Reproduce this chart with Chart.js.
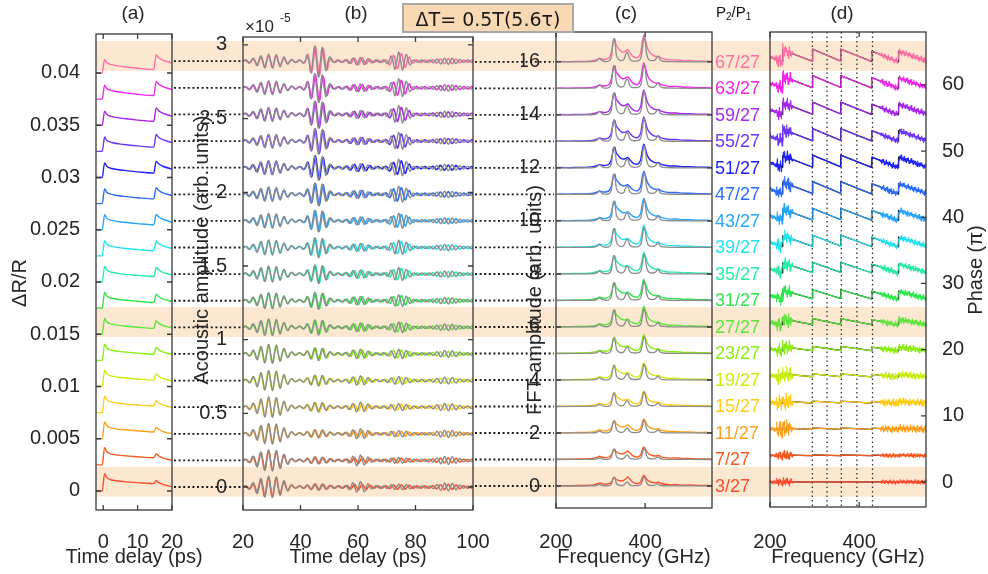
<!DOCTYPE html>
<html>
<head>
<meta charset="utf-8">
<script src="https://cdn.jsdelivr.net/npm/chart.js@4.4.1/dist/chart.umd.min.js"></script>
<style>
  html, body { margin: 0; background: #fff; }
  #fig { position: relative; width: 988px; height: 574px; }
  #fig canvas { position: absolute; left: 0; top: 0; }
</style>
</head>
<body>
<div id="fig">
  <!-- (b) sits at the bottom because it also paints the highlight bands -->
  <canvas id="panelB" width="988" height="574"></canvas>
  <canvas id="panelA" width="988" height="574"></canvas>
  <canvas id="panelC" width="988" height="574"></canvas>
  <canvas id="panelD" width="988" height="574"></canvas>
</div>
<script>
// ---------------- shared ----------------
const ratios = ['3/27', '7/27', '11/27', '15/27', '19/27', '23/27', '27/27', '31/27', '35/27',
                '39/27', '43/27', '47/27', '51/27', '55/27', '59/27', '63/27', '67/27'];
const traceColors = ['#ff4d2e', '#ff5a1c', '#ffa01e', '#ffcc18', '#c8ee10', '#8aee12', '#5ee63a',
                     '#2ee84c', '#26eea2', '#22e4ee', '#26a6ff', '#2a6cff', '#1f22ff', '#6a36ff',
                     '#a826f0', '#f426ee', '#ff6fa6'];
const highlighted = [0, 6, 16];

// ---------------- (a) reflectivity, values x1e-3 above each trace offset ----------------
const tA = [-2, -0.3, 0.4, 1, 2.5, 6, 10, 14.7, 15.4, 16, 17.5, 20];
const aRows = [
  [0, 0, 1.65, 1.30, 1.05, 0.90, 0.80, 0.70, 1.00, 0.85, 0.60, 0.40],
  [0, 0, 1.63, 1.28, 1.03, 0.88, 0.78, 0.68, 1.05, 0.89, 0.64, 0.43],
  [0, 0, 1.61, 1.26, 1.02, 0.86, 0.76, 0.65, 1.09, 0.93, 0.68, 0.47],
  [0, 0, 1.58, 1.24, 1.00, 0.84, 0.73, 0.63, 1.14, 0.97, 0.71, 0.50],
  [0, 0, 1.56, 1.23, 0.99, 0.83, 0.71, 0.61, 1.19, 1.01, 0.75, 0.54],
  [0, 0, 1.54, 1.21, 0.97, 0.81, 0.69, 0.58, 1.23, 1.05, 0.79, 0.57],
  [0, 0, 1.52, 1.19, 0.96, 0.79, 0.67, 0.56, 1.28, 1.09, 0.83, 0.61],
  [0, 0, 1.50, 1.17, 0.94, 0.77, 0.65, 0.54, 1.33, 1.13, 0.86, 0.64],
  [0, 0, 1.48, 1.15, 0.93, 0.75, 0.63, 0.52, 1.38, 1.18, 0.90, 0.68],
  [0, 0, 1.45, 1.13, 0.91, 0.73, 0.60, 0.49, 1.42, 1.22, 0.94, 0.71],
  [0, 0, 1.43, 1.11, 0.89, 0.71, 0.58, 0.47, 1.47, 1.26, 0.98, 0.74],
  [0, 0, 1.41, 1.09, 0.88, 0.69, 0.56, 0.45, 1.52, 1.30, 1.01, 0.78],
  [0, 0, 1.39, 1.08, 0.86, 0.68, 0.54, 0.42, 1.56, 1.34, 1.05, 0.81],
  [0, 0, 1.37, 1.06, 0.85, 0.66, 0.52, 0.40, 1.61, 1.38, 1.09, 0.85],
  [0, 0, 1.34, 1.04, 0.83, 0.64, 0.49, 0.38, 1.66, 1.42, 1.13, 0.88],
  [0, 0, 1.32, 1.02, 0.82, 0.62, 0.47, 0.35, 1.70, 1.46, 1.16, 0.92],
  [0, 0, 1.30, 1.00, 0.80, 0.60, 0.45, 0.33, 1.75, 1.50, 1.20, 0.95]
];
const aStep = 0.0025;
const aXTicks = [0, 10, 20];
const aYTicks = [0, 0.005, 0.01, 0.015, 0.02, 0.025, 0.03, 0.035, 0.04];

// ---------------- (b) acoustic echoes (x1e-5) ----------------
const bStep = 0.1806;
const carrier = [0, 1, 0, -1];            // quarter-period samples
const bQuarter = 0.68, bSimQuarter = 0.665;
const bCenters = [29.5, 46, 60.5, 74.5, 91];
const bHalf = [8, 5.2, 5, 5, 5.5];
const profU = [-1, -0.75, -0.5, -0.25, 0, 0.25, 0.5, 0.75, 1];
const profW = [0, 0.3, 0.65, 0.92, 1, 0.92, 0.65, 0.3, 0];
const bAmpA = [.062, .062, .060, .062, .060, .055, .046, .045, .044, .040, .040, .038, .038, .036, .036, .035, .035];
const bAmpB = [.012, .015, .020, .025, .030, .036, .044, .050, .056, .060, .066, .070, .076, .080, .086, .090, .100];
const bAmpC = [.012, .014, .016, .016, .018, .020, .020, .020, .020, .018, .018, .018, .018, .016, .016, .016, .016];
const bAmpD = [.008, .008, .010, .012, .015, .020, .025, .028, .032, .035, .037, .040, .040, .042, .042, .044, .045];
const bAmpE = [.010, .010, .010, .010, .010, .010, .010, .010, .010, .010, .010, .010, .010, .010, .010, .010, .010];
const bSimA = [.066, .065, .064, .063, .061, .057, .050, .048, .046, .044, .043, .042, .041, .040, .040, .040, .040];
const bSimB = [.014, .016, .020, .025, .030, .036, .044, .050, .056, .062, .068, .072, .078, .082, .088, .094, .100];
const bSimC = [.030, .030, .028, .026, .025, .024, .022, .022, .021, .020, .020, .020, .020, .019, .019, .018, .018];
const bSimD = [.012, .012, .014, .016, .020, .024, .030, .034, .038, .042, .045, .048, .050, .052, .054, .055, .056];
const bSimE = [.020, .020, .018, .018, .016, .016, .015, .015, .014, .014, .014, .014, .014, .014, .014, .014, .014];
const bRipple = [.008, .008, .008, .008, .008, .008, .008, .008, .008, .008, .008, .008, .008, .008, .008, .008, .008];
const bXTicks = [20, 40, 60, 80, 100];
const bYTicks = [0, 0.5, 1, 1.5, 2, 2.5, 3];

// ---------------- (c) FFT spectra ----------------
const cStep = 1;
const cGrid = [200, 215, 230, 245, 260, 272, 284, 292, 298, 304, 312, 320, 325, 329, 332, 335, 339, 344, 350, 356, 361, 366,
               372, 378, 384, 390, 394, 397, 400, 404, 409, 416, 424, 430, 436, 444, 455, 470, 485, 500, 520, 540, 550];
const c330 = [0, 0, 0, 0, 0, 0, .01, .02, .03, .04, .06, .15, .45, .95, 1, .72, .58, .42, .30, .20, .14, .10,
              .07, .05, .04, .03, .03, .02, .02, .02, .01, .01, 0, 0, 0, 0, 0, 0, 0, 0, 0, 0, 0];
const c360 = [0, 0, 0, 0, 0, 0, 0, 0, 0, 0, 0, 0, 0, 0, 0, 0, .02, .08, .25, .65, 1, .65,
              .25, .10, .04, .02, 0, 0, 0, 0, 0, 0, 0, 0, 0, 0, 0, 0, 0, 0, 0, 0, 0];
const c398 = [0, 0, 0, 0, 0, 0, 0, 0, 0, 0, 0, 0, 0, 0, 0, 0, 0, 0, 0, 0, 0, .02,
              .03, .05, .09, .30, .78, 1, .85, .55, .35, .22, .14, .12, .09, .07, .05, .04, .03, .02, .01, .01, 0];
const cFloor = [.01, .015, .01, .02, .02, .03, .04, .07, .11, .07, .05, .05, .03, .02, .02, .03, .04, .05, .04, .03, .03, .04,
                .05, .04, .03, .03, .02, .02, .02, .03, .04, .05, .07, .10, .06, .04, .03, .04, .02, .03, .02, .02, .01];
const g330 = [.30, .36, .44, .50, .54, .58, .62, .64, .66, .69, .72, .74, .76, .78, .80, .83, .84];
const g360 = [.27, .24, .22, .18, .18, .18, .18, .20, .20, .22, .22, .24, .26, .26, .28, .30, .32];
const g398 = [.38, .45, .50, .56, .62, .68, .74, .76, .78, .80, .82, .84, .86, .88, .90, .92, .98];
const gGrid = [200, 280, 290, 295, 298, 301, 306, 318, 324, 327, 330, 333, 336, 344, 352, 356, 359, 362,
               365, 370, 384, 390, 394, 397, 400, 403, 408, 420, 425, 428, 431, 434, 440, 460, 550];
const gShape = [0, .01, .04, .12, .16, .10, .03, .03, .20, .70, 1, .75, .25, .06, .10, .30, .42, .35,
                .15, .05, .05, .15, .60, 1.05, .90, .40, .10, .06, .15, .24, .20, .08, .03, .01, 0];
const cSimGain = [.34, .40, .46, .52, .56, .60, .65, .68, .70, .72, .75, .77, .80, .82, .84, .86, .88];
const cXTicks = [200, 400];
const cYTicks = [0, 2, 4, 6, 8, 10, 12, 14, 16];

// ---------------- (d) phase ----------------
const dStep = 4;
const dF = [200, 227.5, 228.5, 294.5, 295.5, 357.5, 358.5, 427.5, 428.5, 487.5, 488.5, 550];
const dShape = [0.25, -0.45, 1.3, -0.4, 1.4, -0.35, 1.4, -0.45, 1.1, -0.5, 1.1, -0.35];
const dScale = [.04, .06, .12, .16, .25, .35, .5, .75, .85, .92, .96, 1, 1, 1, 1, 1, 1];
const dNoiseF = [200, 212, 216, 246, 252, 444, 452, 550];
const dNoiseW = [0.3, 0.3, 1, 1, 0.03, 0.03, 0.45, 0.45];
const dNoise = [0.7, 0.7, 1.3, 1.3, 1.2, 1.1, 1.1, 1.0, 1.0, 1.0, 1.0, 1.0, 1.0, 1.0, 1.0, 1.0, 1.0];
const dJitter = [0.9, -0.7, 0.3, -1, 0.6, -0.2, 0.8, -0.9, 0.1, -0.5, 1, -0.3, 0.4, -0.8, 0.7, -0.1, 0.5, -0.6,
                 0.2, -1, 0.9, -0.4, 0.3, -0.7, 0.6, -0.2, 0.8, -0.5, 0.1, -0.9, 0.4, -0.3, 1, -0.6, 0.2, -0.8, 0.5];
const dMarks = [295, 328, 360, 395, 430];
const dXTicks = [200, 400];
const dYTicks = [0, 10, 20, 30, 40, 50, 60];

// ---------------- layout ----------------
const FIG_W = 988, FIG_H = 574;
const frames = {
  a: {left: 96, right: 172, top: 34, bottom: 510},
  b: {left: 243, right: 473, top: 37, bottom: 510},
  c: {left: 556, right: 712, top: 32, bottom: 508},
  d: {left: 770, right: 926, top: 32, bottom: 507}
};
const FONT = "'Liberation Sans', Arial, sans-serif";
Chart.defaults.font.family = FONT;
Chart.defaults.font.size = 20;
Chart.defaults.color = '#262626';

function lookup(xs, ys, x) {
  if (x <= xs[0]) return ys[0];
  const n = xs.length - 1;
  if (x >= xs[n]) return ys[n];
  let k = 1;
  while (xs[k] < x) k++;
  const f = (x - xs[k - 1]) / (xs[k] - xs[k - 1]);
  return ys[k - 1] + f * (ys[k] - ys[k - 1]);
}

// box with inward ticks, MATLAB style
function framePlugin(sides) {
  return {
    id: 'frame',
    afterDatasetsDraw(chart) {
      const {ctx, chartArea: a, scales: {x, y}} = chart;
      ctx.save();
      ctx.strokeStyle = '#3a3a3a';
      ctx.lineWidth = 1.3;
      ctx.strokeRect(a.left, a.top, a.right - a.left, a.bottom - a.top);
      ctx.beginPath();
      x.ticks.forEach(t => {
        const px = x.getPixelForValue(t.value);
        ctx.moveTo(px, a.bottom); ctx.lineTo(px, a.bottom - 5);
        ctx.moveTo(px, a.top); ctx.lineTo(px, a.top + 5);
      });
      y.ticks.forEach(t => {
        const py = y.getPixelForValue(t.value);
        if (sides.left) { ctx.moveTo(a.left, py); ctx.lineTo(a.left + 5, py); }
        if (sides.right) { ctx.moveTo(a.right, py); ctx.lineTo(a.right - 5, py); }
      });
      ctx.stroke();
      ctx.restore();
    }
  };
}

function makePanel(id, f, cfg, extra) {
  const onRight = cfg.yPos === 'right';
  const pad = {
    top: f.top, bottom: 0,
    left: onRight ? f.left : f.left - cfg.yAxisWidth,
    right: onRight ? FIG_W - f.right - cfg.yAxisWidth : FIG_W - f.right
  };
  return new Chart(document.getElementById(id), {
    type: 'line',
    data: {datasets: cfg.datasets},
    options: {
      responsive: false,
      animation: false,
      events: [],
      layout: {padding: pad},
      elements: {point: {radius: 0}, line: {borderJoinStyle: 'round'}},
      plugins: {legend: {display: false}, tooltip: {enabled: false}},
      scales: {
        x: {
          type: 'linear', min: cfg.xMin, max: cfg.xMax,
          grid: {display: false}, border: {display: false},
          afterBuildTicks: s => { s.ticks = cfg.xTicks.map(v => ({value: v})); },
          afterFit: s => { s.height = FIG_H - f.bottom; },
          ticks: {padding: 522 - f.bottom, maxRotation: 0, autoSkip: false}
        },
        y: {
          type: 'linear', position: cfg.yPos, min: cfg.yMin, max: cfg.yMax,
          grid: {display: false}, border: {display: false},
          afterBuildTicks: s => { s.ticks = cfg.yTicks.map(v => ({value: v})); },
          afterFit: s => { s.width = cfg.yAxisWidth; },
          ticks: {padding: 8, autoSkip: false, callback: v => String(+v.toFixed(3))}
        }
      }
    },
    plugins: [framePlugin(cfg.tickSides)].concat(extra)
  });
}

function dotted(ctx, x0, x1, y) {
  ctx.beginPath();
  ctx.moveTo(x0, y);
  ctx.lineTo(x1, y);
  ctx.stroke();
}

// ---------------- datasets ----------------
const aDatasets = aRows.map((row, i) => ({
  data: tA.map((t, k) => ({x: t, y: i * aStep + row[k] * 1e-3})),
  borderColor: traceColors[i], borderWidth: 1.4, cubicInterpolationMode: 'monotone'
}));

function acousticSeries(i, amps, quarter, shift) {
  const pts = [];
  for (let k = 0; 20 + k * quarter + shift <= 100.5; k++) {
    const t = 20 + k * quarter + shift;
    let env = bRipple[i];
    bCenters.forEach((c, p) => { env += amps[p][i] * lookup(profU, profW, (t - c) / bHalf[p]); });
    pts.push({x: t, y: i * bStep + carrier[k % 4] * env});
  }
  return pts;
}
const bMeasured = [bAmpA, bAmpB, bAmpC, bAmpD, bAmpE];
const bSimulated = [bSimA, bSimB, bSimC, bSimD, bSimE];
const bDatasets = [];
ratios.forEach((r, i) => {
  bDatasets.push({data: acousticSeries(i, bSimulated, bSimQuarter, 0.3),
                  borderColor: '#8c8c8c', borderWidth: 1.4, tension: 0.45});
  bDatasets.push({data: acousticSeries(i, bMeasured, bQuarter, 0),
                  borderColor: traceColors[i], borderWidth: 1.6, tension: 0.45});
});

const cDatasets = [];
ratios.forEach((r, i) => {
  cDatasets.push({
    data: gGrid.map((f, k) => ({x: f, y: i * cStep + cSimGain[i] * gShape[k]})),
    borderColor: '#8c8c8c', borderWidth: 1.3, tension: 0.25
  });
  cDatasets.push({
    data: cGrid.map((f, k) => ({x: f, y: i * cStep + g330[i] * c330[k] + g360[i] * c360[k] + g398[i] * c398[k] + cFloor[k]})),
    borderColor: traceColors[i], borderWidth: 1.4, tension: 0.2
  });
});

function phaseMeasured(i) {
  const pts = [];
  for (let f = 200, k = 0; f <= 550; f += 1.5, k++) {
    const noise = dNoise[i] * lookup(dNoiseF, dNoiseW, f) * dJitter[(k + 11 * i) % dJitter.length];
    pts.push({x: f, y: i * dStep + dScale[i] * lookup(dF, dShape, f) + noise});
  }
  return pts;
}
const dDatasets = [];
ratios.forEach((r, i) => {
  dDatasets.push({data: phaseMeasured(i), borderColor: traceColors[i], borderWidth: 1.1, tension: 0});
});
ratios.forEach((r, i) => {
  dDatasets.push({data: dF.map((f, k) => ({x: f, y: i * dStep + dScale[i] * dShape[k]})),
                  borderColor: '#1e1e1e', borderWidth: 1.3, tension: 0});
});

// ---------------- overlays ----------------
// highlight bands (before the axes so tick labels stay on top) and the (a)->(b) connectors
const bOverlay = {
  id: 'bOverlay',
  beforeDraw(chart) {
    const {ctx, scales: {y}} = chart;
    ctx.save();
    ctx.fillStyle = '#fce7d0';
    highlighted.forEach(i => {
      const top = y.getPixelForValue(i * bStep + 0.137);
      const bot = y.getPixelForValue(i * bStep - 0.065);
      ctx.fillRect(frames.a.left, top, frames.d.right - frames.a.left, bot - top);
    });
    ctx.restore();
  },
  afterDatasetsDraw(chart) {
    const {ctx, scales: {y}} = chart;
    ctx.save();
    ctx.strokeStyle = '#1a1a1a';
    ctx.lineWidth = 1.8;
    ctx.setLineDash([2, 2.6]);
    ratios.forEach((r, i) => dotted(ctx, frames.a.right + 2, frames.b.left - 2, y.getPixelForValue(i * bStep)));
    ctx.setLineDash([]);
    ctx.fillStyle = '#262626';
    ctx.textAlign = 'left';
    ctx.textBaseline = 'alphabetic';
    ctx.font = '17px ' + FONT;
    ctx.fillText('\u00d710', frames.b.left + 2, 32);
    ctx.font = '12px ' + FONT;
    ctx.fillText('-5', frames.b.left + 37, 22);
    ctx.restore();
  }
};

// (b)->(c) connectors and the ratio labels
const cOverlay = {
  id: 'cOverlay',
  afterDatasetsDraw(chart) {
    const {ctx, scales: {y}} = chart;
    ctx.save();
    ctx.strokeStyle = '#1a1a1a';
    ctx.lineWidth = 1.8;
    ctx.setLineDash([2, 2.6]);
    ratios.forEach((r, i) => dotted(ctx, frames.b.right + 2, frames.c.left - 2, y.getPixelForValue(i * cStep)));
    ctx.setLineDash([]);
    ctx.textAlign = 'left';
    ctx.textBaseline = 'middle';
    ctx.font = '18px ' + FONT;
    ratios.forEach((r, i) => {
      ctx.fillStyle = traceColors[i];
      ctx.fillText(r, frames.c.right + 3, y.getPixelForValue(i * cStep) + 1);
    });
    // P2/P1 header
    ctx.fillStyle = '#111';
    ctx.textBaseline = 'alphabetic';
    let x = frames.c.right + 4;
    const parts = [['P', 15, 0], ['2', 10, 3], ['/P', 15, 0], ['1', 10, 3]];
    parts.forEach(([t, size, drop]) => {
      ctx.font = size + 'px ' + FONT;
      ctx.fillText(t, x, 17 + drop);
      x += ctx.measureText(t).width;
    });
    ctx.restore();
  }
};

// vertical markers at the resonance frequencies
const dOverlay = {
  id: 'dOverlay',
  beforeDatasetsDraw(chart) {
    const {ctx, chartArea: a, scales: {x}} = chart;
    ctx.save();
    ctx.strokeStyle = '#333';
    ctx.lineWidth = 1.3;
    ctx.setLineDash([1.5, 3]);
    dMarks.forEach(f => {
      const px = x.getPixelForValue(f);
      ctx.beginPath(); ctx.moveTo(px, a.top); ctx.lineTo(px, a.bottom); ctx.stroke();
    });
    ctx.restore();
  }
};

// panel letters, title box and axis titles
const panelTitles = [['(a)', 133, 19], ['(b)', 356, 19], ['(c)', 626, 19], ['(d)', 842, 19]];
const xTitles = [['Time delay (ps)', 'a'], ['Time delay (ps)', 'b'], ['Frequency (GHz)', 'c'], ['Frequency (GHz)', 'd']];
const yTitles = [['\u0394R/R', 20, 283], ['Acoustic amplitude (arb. units)', 202, 250],
                 ['FFT amplitude (arb. units)', 535, 300], ['Phase (\u03c0)', 976, 270]];
const figureText = {
  id: 'figureText',
  afterDraw(chart) {
    const ctx = chart.ctx;
    ctx.save();
    ctx.fillStyle = '#262626';
    ctx.textAlign = 'center';
    ctx.textBaseline = 'alphabetic';
    ctx.font = '19px ' + FONT;
    panelTitles.forEach(([t, x, y]) => ctx.fillText(t, x, y));

    ctx.fillStyle = '#f9d8b4';
    ctx.strokeStyle = '#a8a8a8';
    ctx.lineWidth = 2;
    ctx.fillRect(403, 4, 170, 28);
    ctx.strokeRect(403, 4, 170, 28);
    ctx.fillStyle = '#1a1a1a';
    ctx.font = "19px 'DejaVu Sans', sans-serif";
    ctx.fillText('\u0394T= 0.5T(5.6\u03c4)', 488, 26);

    ctx.fillStyle = '#262626';
    ctx.font = '20px ' + FONT;
    ctx.textBaseline = 'middle';
    xTitles.forEach(([t, key]) => {
      const f = frames[key];
      ctx.fillText(t, (f.left + f.right) / 2, 557);
    });
    yTitles.forEach(([t, x, y]) => {
      ctx.save();
      ctx.translate(x, y);
      ctx.rotate(-Math.PI / 2);
      ctx.fillText(t, 0, 0);
      ctx.restore();
    });
    ctx.restore();
  }
};

// ---------------- charts ----------------
makePanel('panelA', frames.a, {
  datasets: aDatasets, xMin: -2.1, xMax: 20, xTicks: aXTicks,
  yMin: -0.00182, yMax: 0.04373, yTicks: aYTicks, yPos: 'left', yAxisWidth: 96,
  tickSides: {left: true, right: true}
}, []);

makePanel('panelB', frames.b, {
  datasets: bDatasets, xMin: 20, xMax: 100, xTicks: bXTicks,
  yMin: -0.156, yMax: 3.054, yTicks: bYTicks, yPos: 'left', yAxisWidth: 58,
  tickSides: {left: true, right: true}
}, [bOverlay]);

makePanel('panelC', frames.c, {
  datasets: cDatasets, xMin: 200, xMax: 550, xTicks: cXTicks,
  yMin: -0.83, yMax: 17.13, yTicks: cYTicks, yPos: 'left', yAxisWidth: 35,
  tickSides: {left: true, right: true}
}, [cOverlay]);

makePanel('panelD', frames.d, {
  datasets: dDatasets, xMin: 200, xMax: 550, xTicks: dXTicks,
  yMin: -3.78, yMax: 68.0, yTicks: dYTicks, yPos: 'right', yAxisWidth: FIG_W - frames.d.right,
  tickSides: {left: false, right: true}
}, [dOverlay, figureText]);
</script>
</body>
</html>
